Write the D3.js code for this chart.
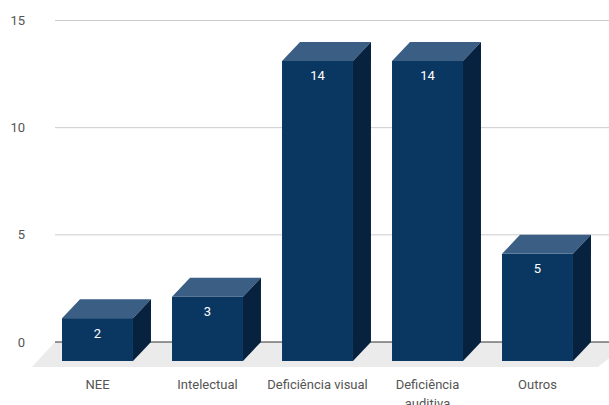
<!DOCTYPE html>
<html>
<head>
	<meta charset="UTF-8">
	<title>index</title>
	<script src="https://d3js.org/d3.v7.min.js"></script>
	<style>
		body { margin:0; background:#fff; }
		svg { display:block; font-family: Roboto, "Noto Sans", sans-serif; }
		.tick-label { fill:#555; font-size:13px; }
		.val { fill:#fff; font-size:13px; }
	</style>
</head>
<body>
<script>
	var categories = ["NEE", "Intelectual", "Deficiência visual", "Deficiência auditiva", "Outros"];
	var values = [2, 3, 14, 14, 5];
	var yTicks = [0, 5, 10, 15];

	var W = 609, H = 405;
	var dx = 18, dy = 19; // 3d depth offset

	var svg = d3.select("body").append("svg").attr("width", W).attr("height", H);

	var y = d3.scaleLinear().domain([0, 15]).range([342, 20.5]);
	var x = d3.scaleBand().domain(categories).range([42.5, 592.5]).paddingInner(0.355).paddingOuter(0.1775);

	// floor
	svg.append("path")
		.attr("d", "M55," + y(0) + "L" + (W + 20) + "," + y(0) + "L598,367L32,367Z")
		.attr("fill", "#ebebeb");

	// gridlines
	svg.selectAll(".grid").data(yTicks.filter(function(d){ return d > 0; })).enter()
		.append("line")
		.attr("x1", 55).attr("x2", W)
		.attr("y1", function(d){ return y(d); }).attr("y2", function(d){ return y(d); })
		.attr("stroke", "#cccccc").attr("stroke-width", 1);

	// zero line
	svg.append("line")
		.attr("x1", 55).attr("x2", W)
		.attr("y1", y(0)).attr("y2", y(0))
		.attr("stroke", "#333").attr("stroke-width", 1);

	// y labels
	svg.selectAll(".ylab").data(yTicks).enter()
		.append("text")
		.attr("class", "tick-label")
		.attr("x", 25).attr("y", function(d){ return y(d); })
		.attr("dy", "0.35em")
		.attr("text-anchor", "end")
		.text(function(d){ return d; });

	// bars
	var g = svg.selectAll(".bar").data(categories).enter().append("g");
	g.each(function(c, i) {
		var el = d3.select(this);
		var x0 = x(c), w = x.bandwidth();
		var top = y(values[i]) + dy, bot = y(0) + dy;
		// front
		el.append("rect").attr("x", x0).attr("y", top).attr("width", w).attr("height", bot - top).attr("fill", "#0a3761");
		// top face
		el.append("path")
			.attr("d", "M" + x0 + "," + top + "L" + (x0 + dx) + "," + (top - dy) + "L" + (x0 + w + dx) + "," + (top - dy) + "L" + (x0 + w) + "," + top + "Z")
			.attr("fill", "#3a5e84");
		// side face
		el.append("path")
			.attr("d", "M" + (x0 + w) + "," + top + "L" + (x0 + w + dx) + "," + (top - dy) + "L" + (x0 + w + dx) + "," + (bot - dy) + "L" + (x0 + w) + "," + bot + "Z")
			.attr("fill", "#06223f");
		// value
		el.append("text").attr("class", "val")
			.attr("x", x0 + w / 2).attr("y", top + 15).attr("dy", "0.35em")
			.attr("text-anchor", "middle")
			.text(values[i]);
	});

	// category labels (wrapped)
	svg.selectAll(".xlab").data(categories).enter()
		.append("text")
		.attr("class", "tick-label")
		.attr("text-anchor", "middle")
		.attr("y", 384)
		.each(function(c) {
			var t = d3.select(this);
			var cx = x(c) + x.bandwidth() / 2;
			var lines = (c === "Deficiência auditiva") ? ["Deficiência", "auditiva"] : [c];
			lines.forEach(function(l, k) {
				t.append("tspan").attr("x", cx).attr("dy", k === 0 ? "0.35em" : "19").text(l);
			});
		});
</script>
</body>
</html>
